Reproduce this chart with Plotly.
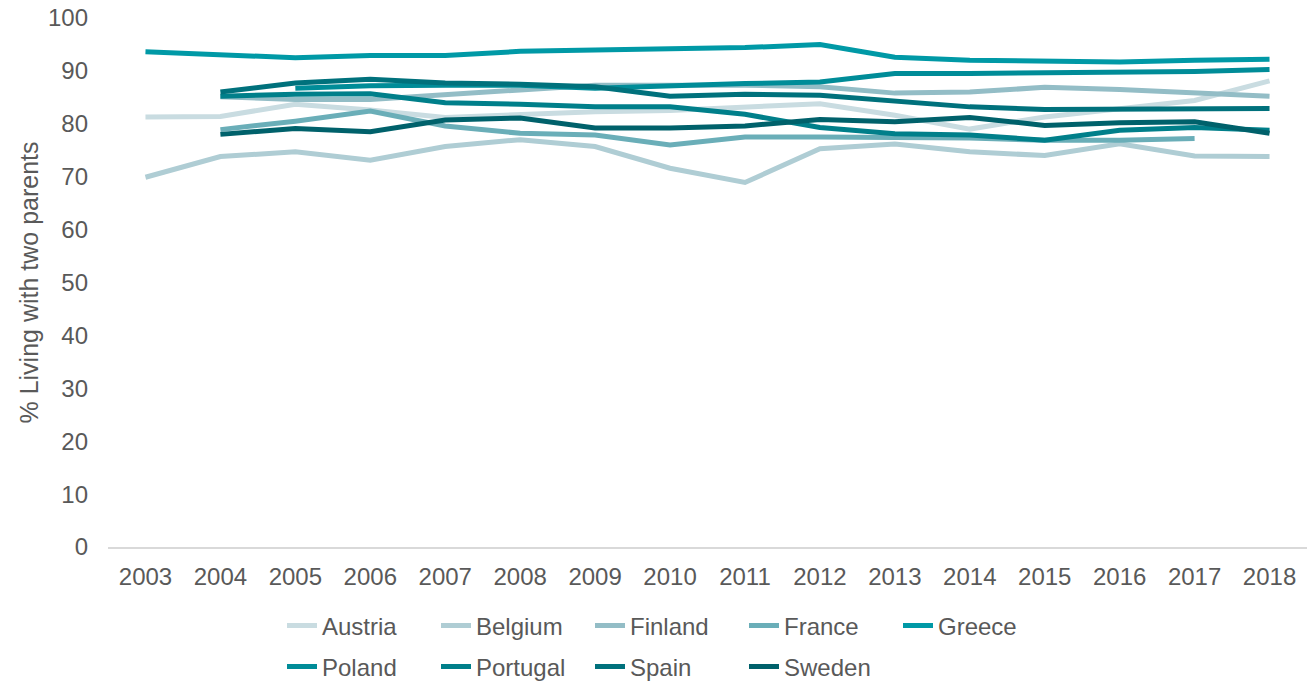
import plotly.graph_objects as go

years = [str(y) for y in range(2003, 2019)]

austria  = [81.3, 81.4, 83.7, 82.6, 81.2, 81.8, 82.3, 82.5, 83.2, 83.8, 81.6, 79.0, 81.3, 82.9, 84.4, 88.1]
belgium  = [69.9, 73.8, 74.7, 73.1, 75.7, 77.0, 75.7, 71.6, 68.9, 75.3, 76.2, 74.7, 74.0, 76.2, 73.9, 73.8]
finland  = [None, 85.1, 84.6, 84.6, 85.4, 86.4, 87.3, 87.4, 87.3, 87.0, 85.8, 86.0, 86.9, 86.5, 85.9, 85.2]
france   = [None, 78.9, 80.5, 82.4, 79.6, 78.2, 77.9, 76.0, 77.5, 77.5, 77.4, 77.3, 76.9, 76.9, 77.2, None]
greece   = [93.6, 93.1, 92.5, 92.9, 92.9, 93.7, 93.9, 94.1, 94.4, 95.0, 92.6, 92.0, 91.8, 91.7, 92.0, 92.2]
poland   = [None, None, 86.7, 87.2, 87.3, 87.3, 86.7, 87.2, 87.6, 87.9, 89.5, 89.5, 89.6, 89.6, 89.9, 90.25]
portugal = [None, 85.2, 85.6, 85.7, 84.0, 83.7, 83.2, 83.2, 81.8, 79.3, 78.1, 77.9, 76.9, 78.8, 79.3, 78.8]
spain    = [None, 86.0, 87.7, 88.4, 87.7, 87.5, 87.0, 85.2, 85.6, 85.4, 84.2, 83.2, 82.7, 82.7, 82.9, 82.9]
sweden   = [None, 78.0, 79.1, 78.5, 80.7, 81.1, 79.2, 79.2, 79.6, 80.8, 80.4, 81.2, 79.7, 80.2, 80.4, 78.2]

names = ["Austria", "Belgium", "Finland", "France", "Greece",
         "Poland", "Portugal", "Spain", "Sweden"]
series = [austria, belgium, finland, france, greece, poland, portugal, spain, sweden]
colors = ["#c9dce1", "#afcdd4", "#93bdc6", "#6aaeb8", "#0099a6",
          "#008c98", "#007f8a", "#00717c", "#00616b"]

yticks = list(range(0, 101, 10))

FONT = "Liberation Sans, Arial, sans-serif"
TXT = "#595959"
FS = 24

W, H = 1309, 682

fig = go.Figure()
for i, (n, s, c) in enumerate(zip(names, series, colors)):
    fig.add_trace(go.Scatter(
        x=years, y=s, name=n, mode="lines",
        line=dict(color=c, width=5),
        connectgaps=False,
        legend="legend" if i < 5 else "legend2",
        hoverinfo="x+y+name",
    ))

legend_common = dict(
    orientation="h",
    xref="container", yref="container",
    xanchor="left", yanchor="middle",
    font=dict(family=FONT, size=FS, color=TXT),
    entrywidth=109,
    bgcolor="rgba(0,0,0,0)",
    traceorder="normal",
    itemclick=False, itemdoubleclick=False,
)

fig.update_layout(
    width=W, height=H,
    margin=dict(l=108, r=2, t=18, b=135, autoexpand=False),
    paper_bgcolor="white", plot_bgcolor="white",
    font=dict(family=FONT, size=FS, color=TXT),
    showlegend=True,
    legend=dict(x=282/W, y=1 - 626/H, **legend_common),
    legend2=dict(x=282/W, y=1 - 667/H, **legend_common),
    xaxis=dict(
        type="category",
        range=[-0.5, 15.5],
        automargin=False,
        showline=True, linecolor="#d9d9d9", linewidth=1.5,
        showgrid=False, zeroline=False,
        ticks="", ticklabelstandoff=7,
        tickfont=dict(family=FONT, size=FS, color=TXT),
    ),
    yaxis=dict(
        range=[0, 100],
        automargin=False,
        tickvals=yticks,
        showline=False, showgrid=False, zeroline=False,
        ticks="", ticklabelstandoff=19,
        ticklabeloverflow="allow",
        tickfont=dict(family=FONT, size=FS, color=TXT),
        title=dict(text="% Living with two parents",
                   font=dict(family=FONT, size=25, color=TXT),
                   standoff=2),
    ),
)

# remove the page's default 8px body margin so the figure fills the window
fig.write_html("out.html",
               config={"displayModeBar": False},
               post_script="document.body.style.margin='0px';")
